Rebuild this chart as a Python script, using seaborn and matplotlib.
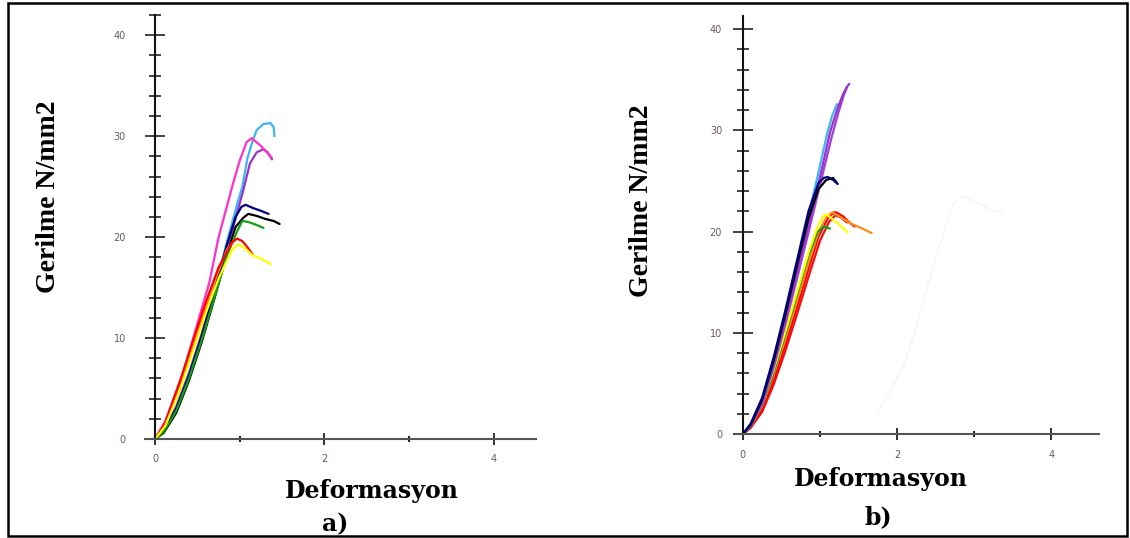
import matplotlib
matplotlib.use("Agg")
import matplotlib.pyplot as plt
import pandas as pd
import seaborn as sns
from matplotlib.ticker import MultipleLocator

# --- data (deformasyon, gerilme) ---
# panel a)
a_lightblue_x = [0, 0.1, 0.25, 0.4, 0.55, 0.7, 0.85, 0.97, 1.03, 1.09, 1.15, 1.2, 1.28, 1.36, 1.40, 1.41]
a_lightblue_y = [0, 0.9, 3.2, 6.5, 10.3, 14.8, 19.6, 23.3, 25.0, 27.8, 29.5, 30.6, 31.2, 31.3, 30.9, 30.0]
a_purple_x = [0, 0.1, 0.25, 0.4, 0.55, 0.7, 0.85, 0.91, 1.04, 1.12, 1.2, 1.28, 1.33, 1.38]
a_purple_y = [0, 0.9, 3.2, 6.5, 10.4, 14.8, 19.2, 20.6, 24.6, 27.3, 28.4, 28.7, 28.4, 27.7]
a_magenta_x = [0, 0.12, 0.33, 0.45, 0.64, 0.75, 0.92, 1.0, 1.08, 1.14, 1.24, 1.32, 1.38]
a_magenta_y = [0, 1.8, 6.5, 10.0, 15.5, 20.0, 25.3, 27.6, 29.4, 29.8, 29.1, 28.4, 27.8]
a_navy_x = [0, 0.1, 0.25, 0.4, 0.55, 0.7, 0.85, 0.95, 1.02, 1.07, 1.15, 1.25, 1.34]
a_navy_y = [0, 0.8, 3.0, 6.3, 10.2, 14.6, 19.3, 22.0, 23.0, 23.2, 22.9, 22.6, 22.3]
a_black_x = [0, 0.1, 0.25, 0.4, 0.55, 0.7, 0.85, 0.95, 1.04, 1.1, 1.2, 1.3, 1.4, 1.47]
a_black_y = [0, 0.6, 2.6, 5.8, 9.6, 13.9, 18.4, 21.0, 21.9, 22.3, 22.1, 21.8, 21.6, 21.3]
a_green_x = [0, 0.1, 0.25, 0.4, 0.55, 0.7, 0.85, 0.97, 1.03, 1.1, 1.2, 1.28]
a_green_y = [0, 0.7, 2.8, 6.0, 9.8, 14.0, 18.2, 20.6, 21.6, 21.5, 21.2, 20.9]
a_orange_x = [0, 0.1, 0.25, 0.4, 0.55, 0.7, 0.85, 0.93]
a_orange_y = [0, 1.2, 4.0, 7.8, 11.8, 15.6, 18.8, 19.6]
a_red_x = [0, 0.12, 0.3, 0.45, 0.6, 0.75, 0.91, 0.97, 1.03, 1.09, 1.15]
a_red_y = [0, 1.6, 5.9, 9.8, 13.6, 17.0, 19.5, 19.85, 19.6, 19.0, 18.3]
a_yellow_x = [0, 0.12, 0.3, 0.45, 0.6, 0.75, 0.9, 0.98, 1.06, 1.15, 1.24, 1.37]
a_yellow_y = [0, 1.3, 5.0, 8.8, 12.5, 15.9, 18.6, 19.3, 18.9, 18.2, 17.9, 17.3]

# panel b)
b_faint_x = [1.75, 1.9, 2.08, 2.25, 2.39, 2.55, 2.73, 2.86, 3.04, 3.2, 3.38]
b_faint_y = [2.1, 4.2, 6.6, 10.5, 14.5, 18.6, 22.8, 23.5, 22.8, 22.2, 21.8]
b_red2_x = [0, 0.1, 0.25, 0.4, 0.55, 0.7, 0.85, 1.0, 1.12, 1.2, 1.27, 1.35]
b_red2_y = [0, 0.6, 2.2, 4.9, 8.2, 11.8, 15.5, 19.1, 21.0, 21.6, 21.4, 20.9]
b_red_x = [0, 0.1, 0.25, 0.4, 0.55, 0.7, 0.85, 0.98, 1.1, 1.18, 1.21, 1.3, 1.38, 1.45]
b_red_y = [0, 0.7, 2.5, 5.4, 8.8, 12.5, 16.3, 19.5, 21.3, 21.9, 21.9, 21.5, 20.9, 20.5]
b_orange_x = [0, 0.1, 0.25, 0.4, 0.55, 0.7, 0.85, 0.98, 1.08, 1.16, 1.25, 1.4, 1.55, 1.67]
b_orange_y = [0, 0.8, 2.8, 5.9, 9.4, 13.1, 16.9, 19.9, 21.4, 21.9, 21.5, 20.8, 20.3, 19.85]
b_green_x = [0, 0.1, 0.25, 0.4, 0.55, 0.7, 0.85, 0.97, 1.05, 1.13]
b_green_y = [0, 0.8, 2.9, 6.1, 9.8, 13.7, 17.6, 20.0, 20.5, 20.3]
b_yellow_x = [0, 0.1, 0.25, 0.4, 0.55, 0.7, 0.85, 0.97, 1.04, 1.09, 1.18, 1.28, 1.36]
b_yellow_y = [0, 0.9, 3.1, 6.4, 10.1, 14.0, 17.9, 20.5, 21.5, 21.7, 21.1, 20.5, 19.9]
b_lightblue_x = [0, 0.1, 0.25, 0.4, 0.55, 0.7, 0.85, 0.97, 1.09, 1.16, 1.22]
b_lightblue_y = [0, 1.0, 3.5, 7.5, 12.0, 16.8, 21.6, 25.5, 29.6, 31.5, 32.6]
b_purple2_x = [0, 0.1, 0.25, 0.4, 0.55, 0.7, 0.85, 1.0, 1.15, 1.24, 1.31, 1.35]
b_purple2_y = [0, 0.8, 3.0, 6.6, 10.8, 15.3, 19.9, 24.6, 29.3, 31.8, 33.5, 34.3]
b_purple_x = [0, 0.1, 0.25, 0.4, 0.55, 0.7, 0.85, 1.0, 1.13, 1.22, 1.30, 1.35, 1.38]
b_purple_y = [0, 0.9, 3.3, 7.0, 11.3, 15.9, 20.6, 25.4, 29.8, 32.0, 33.6, 34.3, 34.6]
b_black_x = [0, 0.1, 0.25, 0.4, 0.55, 0.7, 0.85, 0.98, 1.08, 1.17, 1.20, 1.22]
b_black_y = [0, 0.9, 3.4, 7.3, 11.8, 16.6, 21.3, 24.2, 25.1, 25.3, 25.0, 24.8]
b_navy_x = [0, 0.1, 0.25, 0.4, 0.55, 0.7, 0.85, 0.98, 1.05, 1.1, 1.17, 1.23]
b_navy_y = [0, 1.0, 3.6, 7.6, 12.2, 17.1, 22.0, 24.8, 25.3, 25.4, 25.1, 24.7]

colors = {
    "lightblue": "#3fb4f0", "purple": "#9a32cc", "purple2": "#a040d8",
    "magenta": "#ff2fc8", "navy": "#00007f", "black": "#000000",
    "green": "#14a014", "orange": "#ff8a1a", "red": "#ff0000",
    "red2": "#f01010", "yellow": "#ffff00", "faint": "#f8f4f2",
}

panel_a = {
    "lightblue": (a_lightblue_x, a_lightblue_y), "purple": (a_purple_x, a_purple_y),
    "magenta": (a_magenta_x, a_magenta_y), "navy": (a_navy_x, a_navy_y),
    "black": (a_black_x, a_black_y), "green": (a_green_x, a_green_y),
    "orange": (a_orange_x, a_orange_y), "red": (a_red_x, a_red_y),
    "yellow": (a_yellow_x, a_yellow_y),
}
panel_b = {
    "faint": (b_faint_x, b_faint_y), "red2": (b_red2_x, b_red2_y),
    "red": (b_red_x, b_red_y), "orange": (b_orange_x, b_orange_y),
    "green": (b_green_x, b_green_y), "yellow": (b_yellow_x, b_yellow_y),
    "lightblue": (b_lightblue_x, b_lightblue_y), "purple2": (b_purple2_x, b_purple2_y),
    "purple": (b_purple_x, b_purple_y), "black": (b_black_x, b_black_y),
    "navy": (b_navy_x, b_navy_y),
}


def to_long(curves):
    frames = []
    for name, (xs, ys) in curves.items():
        frames.append(pd.DataFrame({"curve": name, "Deformasyon": xs, "Gerilme": ys}))
    return pd.concat(frames, ignore_index=True)


sns.set_style("ticks")

W, H = 1130, 538
fig = plt.figure(figsize=(W / 100, H / 100), dpi=100)

ax_a = fig.add_axes([145 / W, 99 / H, 391 / W, 424 / H])
ax_b = fig.add_axes([736 / W, 104 / H, 363 / W, 418 / H])


def draw(ax, curves, xlim, ylim, ypad, xpad):
    df = to_long(curves)
    sns.lineplot(data=df, x="Deformasyon", y="Gerilme", hue="curve",
                 hue_order=list(curves.keys()), palette=colors, sort=False,
                 estimator=None, legend=False, linewidth=1.6, ax=ax)
    ax.set_xlim(*xlim)
    ax.set_ylim(*ylim)
    ax.set_xlabel("")
    ax.set_ylabel("")
    for s in ["top", "right"]:
        ax.spines[s].set_visible(False)
    ax.spines["left"].set_position(("data", 0))
    ax.spines["left"].set_color("#111111")
    ax.spines["left"].set_linewidth(1.5)
    ax.spines["bottom"].set_color("#555555")
    ax.spines["bottom"].set_linewidth(1.5)
    ax.xaxis.set_major_locator(MultipleLocator(2))
    ax.xaxis.set_minor_locator(MultipleLocator(1))
    ax.yaxis.set_major_locator(MultipleLocator(10))
    ax.yaxis.set_minor_locator(MultipleLocator(2))
    ax.tick_params(axis="both", which="both", left=True, bottom=True)
    ax.tick_params(axis="y", which="major", direction="inout", length=15, width=1.1,
                   color="#111111", pad=ypad, labelsize=7, labelcolor="#6b5a5a")
    ax.tick_params(axis="y", which="minor", direction="inout", length=9, width=1.1,
                   color="#111111")
    ax.tick_params(axis="x", which="major", direction="inout", length=8, width=1.3,
                   color="#222222", pad=xpad, labelsize=7, labelcolor="#6b5a5a")
    ax.tick_params(axis="x", which="minor", direction="inout", length=4, width=1.5,
                   color="#222222")
    ax.patch.set_alpha(0)


draw(ax_a, panel_a, (-0.12, 4.5), (0, 42), 13.5, 7)
draw(ax_b, panel_b, (-0.09, 4.62), (0, 41.3), 7.5, 7.5)
# the faint trace in b) is thinner than the rest
ax_b.lines[0].set_linewidth(1.0)

ylab_font = dict(family="Liberation Serif", weight="bold", size=20, rotation=90,
                 ha="center", va="center", color="black")
fig.text(49 / W, 1 - 197 / H, "Gerilme N/mm2", **ylab_font)
fig.text(641 / W, 1 - 201 / H, "Gerilme N/mm2", **ylab_font)

xlab_font = dict(family="DejaVu Serif", weight="bold", size=17, ha="center",
                 va="center", color="black")
fig.text(372 / W, 1 - 491 / H, "Deformasyon", **xlab_font)
fig.text(335 / W, 1 - 524 / H, "a)", **xlab_font)
fig.text(881 / W, 1 - 479 / H, "Deformasyon", **xlab_font)
fig.text(878 / W, 1 - 517 / H, "b)", **xlab_font)

# frame round the whole figure
frame = plt.Rectangle((8 / W, 1 - 536 / H), (1127 - 8) / W, (536 - 3) / H,
                      transform=fig.transFigure, fill=False, edgecolor="black",
                      linewidth=1.8)
fig.add_artist(frame)

fig.savefig("out.png", dpi=100)
